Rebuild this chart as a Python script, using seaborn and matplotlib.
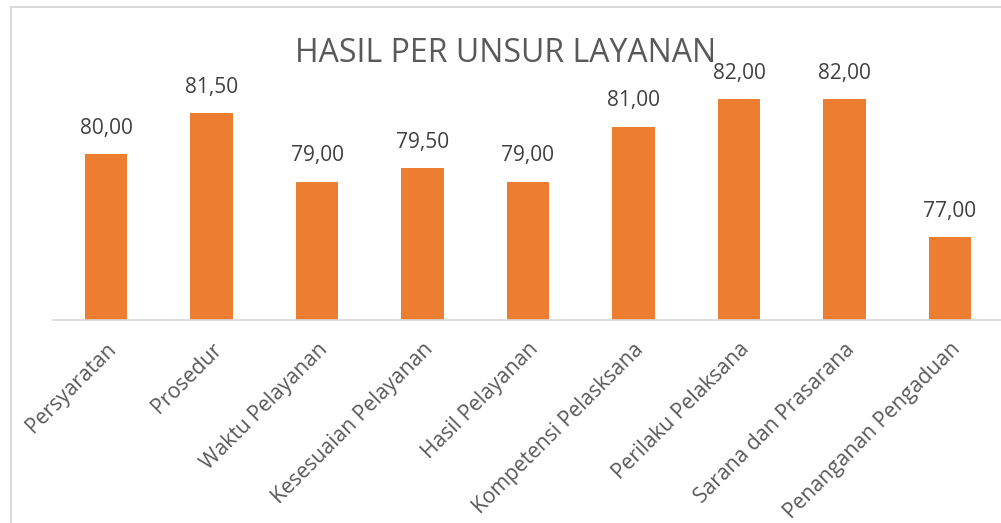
import matplotlib
matplotlib.use("Agg")
import matplotlib.pyplot as plt
import seaborn as sns
import pandas as pd
from matplotlib.patches import Rectangle

categories = ["Persyaratan", "Prosedur", "Waktu Pelayanan", "Kesesuaian Pelayanan",
              "Hasil Pelayanan", "Kompetensi Pelasksana", "Perilaku Pelaksana",
              "Sarana dan Prasarana", "Penanganan Pengaduan"]
values = [80.00, 81.50, 79.00, 79.50, 79.00, 81.00, 82.00, 82.00, 77.00]
title = "HASIL PER UNSUR LAYANAN"

sns.set_theme(style="white")
plt.rcParams['font.family'] = ['Open Sans', 'DejaVu Sans']

df = pd.DataFrame({"unsur": categories, "nilai": values})

fig = plt.figure(figsize=(10.01, 5.23), dpi=100)
ax = fig.add_axes([53.25/1001, (523-319.5)/523, 949.5/1001, 275.5/523])
sns.barplot(data=df, x="unsur", y="nilai", color="#ED7D31", width=0.4,
            saturation=1, ax=ax, edgecolor="none")
ax.set_ylim(74, 84)
ax.set_xlim(-0.5, 8.5)
ax.set_xlabel("")
ax.set_ylabel("")
ax.set_yticks([])
for s in ["top", "right", "left"]:
    ax.spines[s].set_visible(False)
ax.spines["bottom"].set_color("#D9D9D9")
ax.spines["bottom"].set_linewidth(1.2)
ax.tick_params(axis="x", length=0, pad=14)
for lbl in ax.get_xticklabels():
    lbl.set_rotation(45)
    lbl.set_ha("right")
    lbl.set_rotation_mode("anchor")
    lbl.set_fontsize(15.2)
    lbl.set_color("#595959")

ax.bar_label(ax.containers[0], labels=[f"{v:.2f}".replace(".", ",") for v in values],
             padding=11, fontsize=15, color="#404040")

fig.text(506/1001, 1 - 62/523, title, ha="center", va="baseline",
         fontsize=23, color="#595959")

fig.add_artist(Rectangle((10.5/1001, -0.05), 1.1, 1.05 - 6.5/523,
                         transform=fig.transFigure, fill=False,
                         edgecolor="#D9D9D9", linewidth=1.5, zorder=-1))

fig.savefig("out.png", dpi=100)
